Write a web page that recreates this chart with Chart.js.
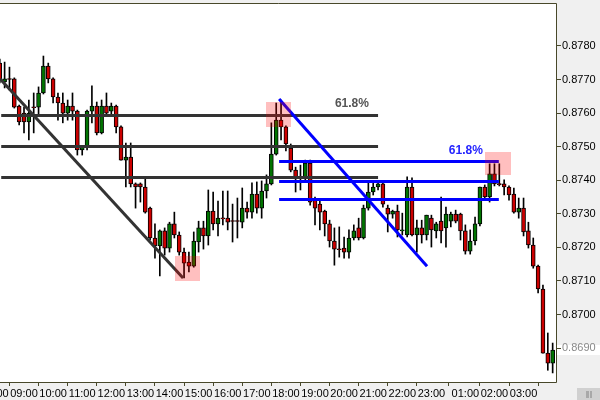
<!DOCTYPE html>
<html>
<head>
<meta charset="utf-8">
<script src="https://cdn.jsdelivr.net/npm/chart.js@4.4.1/dist/chart.umd.min.js"></script>
<style>
  html, body { margin: 0; padding: 0; background: #f0f0f0; }
</style>
</head>
<body>
<canvas id="chart" width="600" height="400"></canvas>
<script>
// 10-minute candles, one per slot
const opens = [
  .87749, .87693, .87702, .87702, .87621, .87600, .87574, .87618, .87618, .87660,
  .87740, .87702, .87648, .87630, .87600, .87621, .87606, .87490, .87499, .87606,
  .87621, .87541, .87621, .87606, .87621, .87559, .87460, .87469, .87389, .87389,
  .87380, .87317, .87228, .87204, .87249, .87198, .87270, .87237, .87186, .87156,
  .87144, .87216, .87258, .87234, .87308, .87270, .87287, .87287, .87278, .87278,
  .87275, .87317, .87305, .87359, .87317, .87368, .87389, .87478, .87579, .87559,
  .87496, .87430, .87410, .87407, .87451, .87341, .87329, .87308, .87270, .87219,
  .87195, .87198, .87186, .87228, .87258, .87228, .87317, .87365, .87380, .87389,
  .87317, .87299, .87308, .87249, .87237, .87380, .87237, .87258, .87237, .87287,
  .87249, .87278, .87258, .87278, .87299, .87299, .87249, .87189, .87219, .87270,
  .87380, .87350, .87419, .87389, .87389, .87380, .87359, .87305, .87317, .87249,
  .87207, .87144, .87076, .86885, .86855
];
const highs = [
  .87761, .87752, .87737, .87705, .87624, .87618, .87639, .87660, .87678, .87770,
  .87749, .87705, .87660, .87660, .87639, .87660, .87609, .87499, .87609, .87681,
  .87633, .87639, .87660, .87630, .87624, .87562, .87511, .87511, .87392, .87392,
  .87407, .87320, .87270, .87252, .87258, .87275, .87305, .87246, .87198, .87186,
  .87246, .87278, .87278, .87371, .87365, .87338, .87368, .87368, .87329, .87347,
  .87377, .87335, .87392, .87395, .87398, .87416, .87571, .87630, .87639, .87562,
  .87508, .87439, .87445, .87460, .87460, .87350, .87341, .87311, .87281, .87258,
  .87261, .87231, .87252, .87267, .87287, .87326, .87395, .87395, .87395, .87395,
  .87326, .87311, .87326, .87302, .87410, .87407, .87281, .87281, .87296, .87296,
  .87275, .87350, .87320, .87305, .87311, .87302, .87267, .87252, .87290, .87380,
  .87386, .87449, .87449, .87449, .87401, .87383, .87377, .87347, .87347, .87275,
  .87228, .87147, .87088, .86945, .86915
];
const lows = [
  .87690, .87675, .87669, .87615, .87565, .87541, .87520, .87541, .87594, .87657,
  .87690, .87630, .87579, .87571, .87579, .87579, .87475, .87475, .87490, .87571,
  .87535, .87538, .87597, .87597, .87541, .87460, .87380, .87380, .87317, .87335,
  .87302, .87222, .87168, .87115, .87177, .87186, .87228, .87177, .87109, .87127,
  .87141, .87186, .87195, .87207, .87252, .87234, .87267, .87252, .87216, .87228,
  .87258, .87287, .87287, .87302, .87287, .87347, .87386, .87475, .87520, .87487,
  .87425, .87365, .87371, .87401, .87326, .87267, .87252, .87234, .87201, .87147,
  .87171, .87168, .87168, .87222, .87222, .87225, .87311, .87356, .87371, .87320,
  .87246, .87287, .87231, .87237, .87231, .87234, .87186, .87213, .87222, .87201,
  .87228, .87213, .87201, .87261, .87273, .87222, .87180, .87180, .87207, .87264,
  .87341, .87335, .87383, .87383, .87356, .87341, .87302, .87287, .87234, .87198,
  .87138, .87064, .86885, .86834, .86826
];
const closes = [
  .87696, .87702, .87700, .87618, .87574, .87574, .87600, .87616, .87660, .87740,
  .87702, .87648, .87630, .87600, .87621, .87606, .87490, .87499, .87606, .87621,
  .87541, .87621, .87600, .87621, .87559, .87460, .87469, .87389, .87380, .87380,
  .87305, .87228, .87204, .87249, .87198, .87270, .87237, .87186, .87153, .87144,
  .87219, .87258, .87234, .87308, .87270, .87287, .87285, .87275, .87277, .87277,
  .87317, .87305, .87359, .87317, .87368, .87389, .87478, .87579, .87559, .87508,
  .87430, .87407, .87408, .87451, .87335, .87317, .87305, .87270, .87219, .87195,
  .87193, .87186, .87228, .87249, .87228, .87317, .87365, .87380, .87389, .87329,
  .87299, .87308, .87252, .87249, .87380, .87237, .87258, .87237, .87296, .87252,
  .87270, .87249, .87299, .87299, .87278, .87249, .87189, .87219, .87270, .87380,
  .87350, .87419, .87389, .87387, .87380, .87356, .87305, .87317, .87246, .87207,
  .87144, .87076, .86885, .86855, .86894
];

// axis ticks
const hourIdx = [-1, 5, 11, 17, 23, 29, 35, 41, 47, 53, 59, 65, 71, 77, 83, 89, 96, 102, 108];
const hourLabels = ['08:00', '09:00', '10:00', '11:00', '12:00', '13:00', '14:00', '15:00', '16:00',
  '17:00', '18:00', '19:00', '20:00', '21:00', '22:00', '23:00', '01:00', '02:00', '03:00'];
const yTicks = [0.8690, 0.8700, 0.8710, 0.8720, 0.8730, 0.8740, 0.8750, 0.8760, 0.8770, 0.8780];

// drawn studies (candle index, price)
const grayLevels = [0.87594, 0.87502, 0.87410];
const grayRange = [0.3, 78];
const grayTrendX = [0.05, 37.8];
const grayTrendY = [0.87702, 0.87109];
const blueLevels = [0.87457, 0.87398, 0.87344];
const blueRange = [57.6, 102.9];
const blueTrendX = [57.6, 88.1];
const blueTrendY = [0.87642, 0.87144];
const zoneX0 = [36.1, 54.9, 100.05];
const zoneX1 = [41.3, 60.0, 105.4];
const zoneHi = [0.87174, 0.87633, 0.87484];
const zoneLo = [0.87100, 0.87559, 0.87416];
const fibText = '61.8%';
const grayLabelAt = [69.1, 0.87627];
const blueLabelAt = [92.6, 0.87487];

const FONT = '"Liberation Sans", Arial, sans-serif';
const FRAME = '#48482a';

const idx = opens.map((_, i) => i);
const wickData = idx.map(i => ({ x: i, y: [lows[i], highs[i]] }));
const bodyData = idx.map(i => ({ x: i, y: [opens[i], closes[i]] }));
const bodyColors = idx.map(i => closes[i] >= opens[i] ? '#007400' : '#cc0000');

const studies = {
    id: 'studies',
    beforeDraw(chart) {
        const { ctx, chartArea: a, scales: { y } } = chart;
        ctx.save();
        ctx.fillStyle = '#f0f0f0';
        ctx.fillRect(0, 0, chart.width, chart.height);
        ctx.fillStyle = '#ffffff';
        ctx.fillRect(a.left, a.top, a.right - a.left, a.bottom - a.top);
        // last price box behind the axis label
        const lp = Math.round(y.getPixelForValue(closes[closes.length - 1]));
        ctx.fillRect(a.right + 1, lp - 5, chart.width - a.right - 1, 10);
        // scroll button
        ctx.fillStyle = '#d0d0d0';
        ctx.fillRect(577, 388, 23, 12);
        ctx.fillStyle = '#a8a8a8';
        ctx.fillRect(586, 391, 3, 7);
        ctx.fillRect(590, 391, 2, 7);
        ctx.restore();
    },
    afterDatasetsDraw(chart) {
        const { ctx, chartArea: a, scales: { x, y } } = chart;
        const px = v => x.getPixelForValue(v);
        const py = v => y.getPixelForValue(v);
        ctx.save();
        ctx.beginPath();
        ctx.rect(a.left, a.top, a.right - a.left, a.bottom - a.top);
        ctx.clip();
        ctx.lineWidth = 3;
        ctx.lineCap = 'butt';

        const hline = (x0, x1, v, color) => {
            const yy = Math.round(py(v)) + 0.5;
            ctx.strokeStyle = color;
            ctx.beginPath();
            ctx.moveTo(px(x0), yy);
            ctx.lineTo(px(x1), yy);
            ctx.stroke();
        };
        const seg = (xs, ys, color) => {
            ctx.strokeStyle = color;
            ctx.beginPath();
            ctx.moveTo(px(xs[0]), py(ys[0]));
            ctx.lineTo(px(xs[1]), py(ys[1]));
            ctx.stroke();
        };

        grayLevels.forEach(v => hline(grayRange[0], grayRange[1], v, '#333333'));
        seg(grayTrendX, grayTrendY, '#333333');
        blueLevels.forEach(v => hline(blueRange[0], blueRange[1], v, '#0000ff'));
        seg(blueTrendX, blueTrendY, '#0000ff');

        ctx.fillStyle = 'rgba(255, 0, 0, 0.25)';
        zoneX0.forEach((x0, i) => {
            const l = Math.round(px(x0)), r = Math.round(px(zoneX1[i]));
            const t = Math.round(py(zoneHi[i])), b = Math.round(py(zoneLo[i]));
            ctx.fillRect(l, t, r - l, b - t);
        });

        ctx.font = 'bold 12px ' + FONT;
        ctx.textBaseline = 'middle';
        ctx.textAlign = 'left';
        ctx.fillStyle = '#555555';
        ctx.fillText(fibText, px(grayLabelAt[0]), py(grayLabelAt[1]));
        ctx.fillStyle = '#2424ff';
        ctx.fillText(fibText, px(blueLabelAt[0]), py(blueLabelAt[1]));
        ctx.restore();

        // plot frame
        ctx.save();
        ctx.strokeStyle = FRAME;
        ctx.lineWidth = 1;
        ctx.beginPath();
        ctx.moveTo(0, a.top + 0.5);
        ctx.lineTo(a.right + 0.5, a.top + 0.5);
        ctx.lineTo(a.right + 0.5, a.bottom + 0.5);
        ctx.lineTo(0, a.bottom + 0.5);
        ctx.stroke();
        ctx.restore();
    }
};

new Chart(document.getElementById('chart'), {
    type: 'bar',
    data: {
        datasets: [
            {
                label: 'body',
                data: bodyData,
                backgroundColor: bodyColors,
                borderColor: '#000000',
                borderWidth: 1,
                borderSkipped: false,
                barThickness: 4,
                minBarLength: 1,
                grouped: false,
                order: 0
            },
            {
                label: 'wick',
                data: wickData,
                backgroundColor: '#000000',
                borderWidth: 0,
                barThickness: 1,
                grouped: false,
                order: 1
            }
        ]
    },
    options: {
        responsive: false,
        animation: false,
        layout: { padding: { top: 3, left: 0, right: 0, bottom: 0 } },
        plugins: {
            legend: { display: false },
            tooltip: { enabled: false }
        },
        scales: {
            x: {
                type: 'linear',
                min: 0.05,
                max: 114.69,
                offset: false,
                border: { display: false },
                grid: { drawOnChartArea: false, drawTicks: true, tickLength: 4, color: FRAME },
                ticks: {
                    autoSkip: false,
                    maxRotation: 0,
                    minRotation: 0,
                    padding: 1,
                    color: '#000000',
                    font: { family: FONT, size: 11 },
                    callback: v => {
                        const k = hourIdx.indexOf(v);
                        return k >= 0 ? hourLabels[k] : '';
                    }
                },
                afterBuildTicks: s => { s.ticks = hourIdx.map(v => ({ value: v })); },
                afterFit: s => {
                    s.height = 18;
                    s.paddingLeft = 0;
                    s.paddingRight = 0;
                }
            },
            y: {
                type: 'linear',
                position: 'right',
                min: 0.86799,
                max: 0.87928,
                border: { display: false },
                grid: { drawOnChartArea: false, drawTicks: true, tickLength: 5, color: FRAME },
                ticks: {
                    padding: 1,
                    color: c => Math.abs(c.tick.value - 0.869) < 1e-7 ? '#8a8a8a' : '#000000',
                    font: { family: FONT, size: 11 },
                    callback: v => v.toFixed(4)
                },
                afterBuildTicks: s => { s.ticks = yTicks.map(v => ({ value: v })); },
                afterFit: s => {
                    s.width = 44;
                    s.paddingTop = 0;
                    s.paddingBottom = 0;
                }
            }
        }
    },
    plugins: [studies]
});
</script>
</body>
</html>
